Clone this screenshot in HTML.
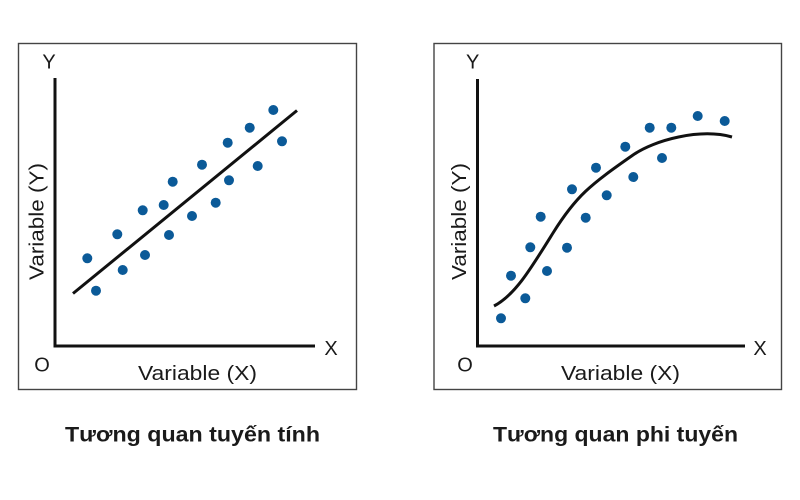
<!DOCTYPE html>
<html>
<head>
<meta charset="utf-8">
<style>
  html,body{margin:0;padding:0;background:#fff;}
  svg{display:block;}
  text{font-family:"Liberation Sans",sans-serif;fill:#1a1a1a;}
</style>
</head>
<body>
<svg width="800" height="500" viewBox="0 0 800 500" xmlns="http://www.w3.org/2000/svg">
  <rect width="800" height="500" fill="#ffffff"/>

  <!-- LEFT PANEL -->
  <rect x="18.5" y="43.5" width="338" height="346" fill="none" stroke="#444" stroke-width="1.4"/>
  <line x1="55" y1="78" x2="55" y2="347.5" stroke="#111" stroke-width="3"/>
  <line x1="53.5" y1="346" x2="315" y2="346" stroke="#111" stroke-width="3"/>
  <text x="49" y="68.5" font-size="20" text-anchor="middle">Y</text>
  <text x="331" y="355" font-size="20" text-anchor="middle">X</text>
  <text x="42" y="371.5" font-size="20" text-anchor="middle">O</text>
  <text x="138" y="380" font-size="20" textLength="119" lengthAdjust="spacingAndGlyphs">Variable (X)</text>
  <text transform="translate(43.5,280) rotate(-90)" font-size="20" textLength="117" lengthAdjust="spacingAndGlyphs">Variable (Y)</text>

  <line x1="73" y1="293.5" x2="297" y2="110.5" stroke="#111" stroke-width="3"/>
  <g fill="#0b5a98">
    <circle cx="87.3" cy="258.3" r="5"/>
    <circle cx="96" cy="290.7" r="5"/>
    <circle cx="117.3" cy="234.3" r="5"/>
    <circle cx="122.7" cy="270" r="5"/>
    <circle cx="142.7" cy="210.3" r="5"/>
    <circle cx="145" cy="255" r="5"/>
    <circle cx="163.7" cy="205" r="5"/>
    <circle cx="169" cy="235" r="5"/>
    <circle cx="172.7" cy="181.7" r="5"/>
    <circle cx="192" cy="216" r="5"/>
    <circle cx="202" cy="164.7" r="5"/>
    <circle cx="215.7" cy="202.7" r="5"/>
    <circle cx="227.7" cy="142.7" r="5"/>
    <circle cx="229" cy="180.3" r="5"/>
    <circle cx="249.7" cy="127.7" r="5"/>
    <circle cx="257.7" cy="166" r="5"/>
    <circle cx="273.3" cy="110" r="5"/>
    <circle cx="282" cy="141.3" r="5"/>
  </g>

  <!-- RIGHT PANEL -->
  <rect x="434" y="43.5" width="347.5" height="346" fill="none" stroke="#444" stroke-width="1.4"/>
  <line x1="477.5" y1="79" x2="477.5" y2="347.5" stroke="#111" stroke-width="3"/>
  <line x1="476" y1="346" x2="745" y2="346" stroke="#111" stroke-width="3"/>
  <text x="472.7" y="68.5" font-size="20" text-anchor="middle">Y</text>
  <text x="760" y="355" font-size="20" text-anchor="middle">X</text>
  <text x="465" y="371.5" font-size="20" text-anchor="middle">O</text>
  <text x="561" y="380" font-size="20" textLength="119" lengthAdjust="spacingAndGlyphs">Variable (X)</text>
  <text transform="translate(466,280) rotate(-90)" font-size="20" textLength="117" lengthAdjust="spacingAndGlyphs">Variable (Y)</text>

  <path d="M494,306 C515,295 530,270 553,233 S590,185 633,155 C654.5,140 700,128 732,137" fill="none" stroke="#111" stroke-width="3"/>
  <g fill="#0b5a98">
    <circle cx="501" cy="318.3" r="5"/>
    <circle cx="511" cy="275.7" r="5"/>
    <circle cx="525.3" cy="298.3" r="5"/>
    <circle cx="530.3" cy="247.3" r="5"/>
    <circle cx="540.7" cy="216.7" r="5"/>
    <circle cx="547" cy="271" r="5"/>
    <circle cx="567" cy="247.7" r="5"/>
    <circle cx="572" cy="189.3" r="5"/>
    <circle cx="585.7" cy="217.7" r="5"/>
    <circle cx="596" cy="167.7" r="5"/>
    <circle cx="606.7" cy="195.3" r="5"/>
    <circle cx="625.3" cy="146.7" r="5"/>
    <circle cx="633.3" cy="177" r="5"/>
    <circle cx="649.7" cy="127.7" r="5"/>
    <circle cx="662" cy="158" r="5"/>
    <circle cx="671.3" cy="127.7" r="5"/>
    <circle cx="697.7" cy="116" r="5"/>
    <circle cx="724.7" cy="121" r="5"/>
  </g>

  <!-- TITLES -->
  <text x="65" y="441.5" font-size="21" font-weight="bold" fill="#111" textLength="255" lengthAdjust="spacingAndGlyphs">Tương quan tuyến tính</text>
  <text x="493" y="441.5" font-size="21" font-weight="bold" fill="#111" textLength="245" lengthAdjust="spacingAndGlyphs">Tương quan phi tuyến</text>
</svg>
</body>
</html>
